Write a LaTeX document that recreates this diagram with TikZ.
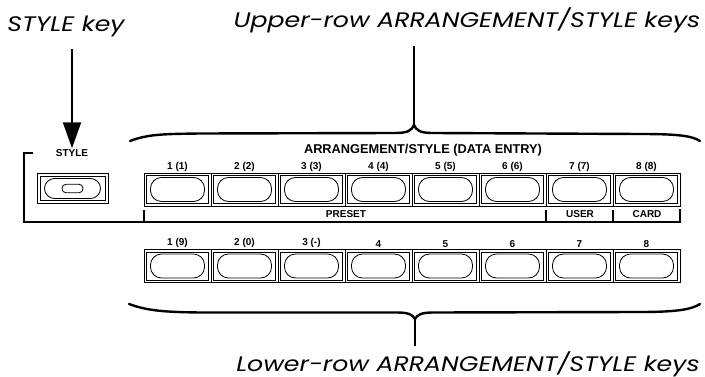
\documentclass[tikz,border=0pt]{standalone}
\usepackage{fontspec}
\setmainfont{Liberation Sans}
\newfontfamily\captfont{Poppins}
\usetikzlibrary{positioning,arrows.meta}

\begin{document}
\begin{tikzpicture}[x=1pt,y=-1pt,
  keycell/.style={draw,line width=0.9pt,minimum width=67pt,minimum height=33pt,inner sep=0pt},
  keyinner/.style={draw,line width=0.6pt,minimum width=62pt,minimum height=28pt,inner sep=0pt},
  keypill/.style={draw,line width=0.8pt,rounded corners=11pt,minimum width=54pt,minimum height=24pt,inner sep=0pt},
  keylabel/.style={font=\bfseries\fontsize{10}{10}\selectfont,inner sep=1pt},
  bigtext/.style={font=\captfont\itshape\fontsize{21}{21}\selectfont,inner sep=0pt,anchor=base},
  braceline/.style={line width=2.4pt,line cap=round},
  stemline/.style={line width=1.8pt}]
\useasboundingbox (0,0) rectangle (705,377);

% captions
\node[bigtext] (stylecap) at (66,32) {\scalebox{1.2}[1]{STYLE key}};
\node[bigtext] (upcap) at (467,28) {\scalebox{1.2}[1]{Upper-row ARRANGEMENT/STYLE keys}};
\node[bigtext] (lowcap) at (468,371) {\scalebox{1.2}[1]{Lower-row ARRANGEMENT/STYLE keys}};

% STYLE key
\node[keylabel] (stylelab) at (72,153) {STYLE};
\node[keycell,minimum width=71pt,minimum height=30pt] (stylebtn) at (72.5,188.5) {};
\node[keyinner,minimum width=65pt,minimum height=24pt] (styleinner) at (stylebtn) {};
\node[keypill,minimum width=56pt,minimum height=20pt,rounded corners=10pt] (stylepill) at (stylebtn) {};
\node[draw,line width=0.8pt,rounded corners=4pt,minimum width=21pt,minimum height=8.5pt,inner sep=0pt] (styledot) at (stylebtn) {};
\draw[-{Triangle[width=18pt,length=26pt]},line width=2pt,shorten <=11pt] (stylecap.south -| stylelab.north) -- (stylelab.north);

% upper row
\node[keylabel,font=\bfseries\fontsize{12.8}{13}\selectfont] (arrlab) at (423,150) {ARRANGEMENT/STYLE (DATA ENTRY)};
\foreach \i/\t in {1/{1 (1)},2/{2 (2)},3/{3 (3)},4/{4 (4)},5/{5 (5)},6/{6 (6)},7/{7 (7)},8/{8 (8)}} {
  \node[keycell] (up\i) at ({144+67*(\i-0.5)},189.5) {};
  \node[keyinner] (upin\i) at (up\i) {};
  \node[keypill] (uppill\i) at (up\i) {};
  \node[keylabel,above=0pt of up\i] (uplab\i) {\t};
}

% PRESET / USER / CARD strip
\draw[line width=1.6pt] (33,153) -- (24,153) -- (24,222) -- (680,222) -- (680,209);
\foreach \x in {144,546,613}
  \draw[line width=1.6pt] (\x,210) -- (\x,222);
\node[keylabel] (presetlab) at (346,214) {PRESET};
\node[keylabel] (userlab) at (580,214) {USER};
\node[keylabel] (cardlab) at (647,214) {CARD};

% lower row
\foreach \i/\t in {1/{1 (9)},2/{2 (0)},3/{3 (-)},4/4,5/5,6/6,7/7,8/8} {
  \node[keycell] (low\i) at ({144+67*(\i-0.5)},266) {};
  \node[keyinner] (lowin\i) at (low\i) {};
  \node[keypill] (lowpill\i) at (low\i) {};
  \node[keylabel,above=0pt of low\i] (lowlab\i) {\t};
}

% braces
\coordinate (uptip) at (414,125);
\draw[braceline] (130,141) .. controls (148,134) and (165,134) .. (200,133.5) -- (396,133)
  .. controls (408,133) and (412,130) .. (uptip) .. controls (416,130) and (420,133) .. (432,133)
  -- (640,134) .. controls (680,134) and (692,136) .. (700,141);
\draw[stemline,shorten <=12pt] (upcap.south -| uptip) -- (uptip);

\coordinate (lowtip) at (415,319);
\draw[braceline] (129,304) .. controls (148,311) and (165,312) .. (200,312.5) -- (397,312.5)
  .. controls (409,312.5) and (413,315) .. (lowtip) .. controls (417,315) and (421,312.5) .. (433,312.5)
  -- (640,312) .. controls (680,312) and (692,309) .. (700,304);
\draw[stemline,shorten <=5pt] (lowcap.north -| lowtip) -- (lowtip);
\end{tikzpicture}
\end{document}
